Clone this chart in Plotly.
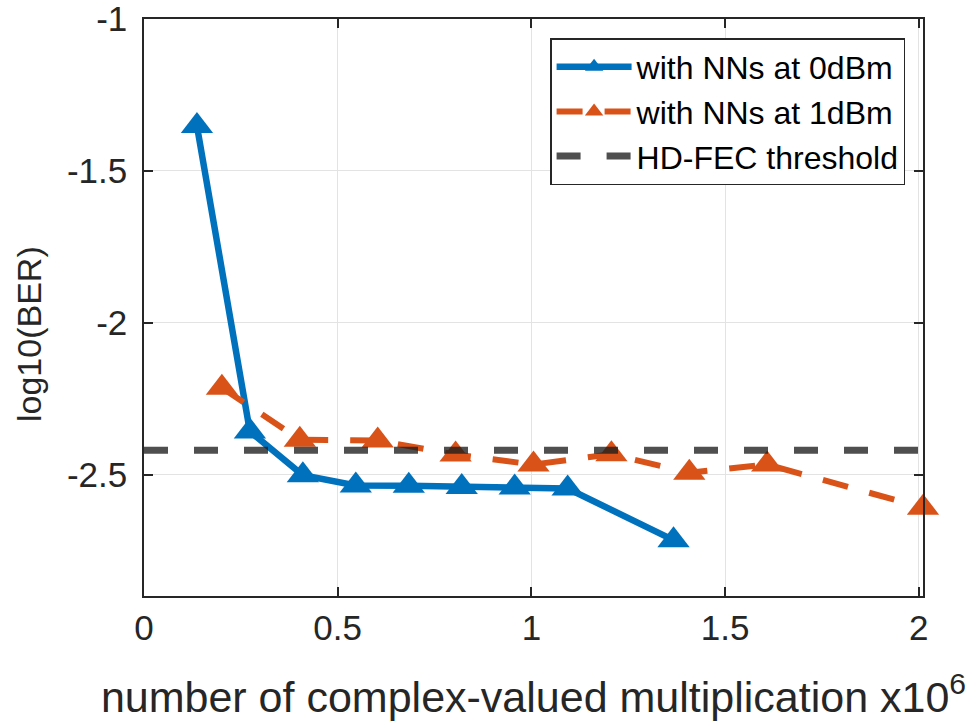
import plotly.graph_objects as go

# ---- data ----
nn0_x = [0.1367, 0.2734, 0.4101, 0.5468, 0.6835, 0.8202, 0.9569, 1.0936, 1.3670]
nn0_y = [-1.352, -2.358, -2.502, -2.536, -2.537, -2.541, -2.543, -2.546, -2.716]

nn1_x = [0.2011, 0.4022, 0.6033, 0.8044, 1.0055, 1.2066, 1.4077, 1.6088, 2.0110]
nn1_y = [-2.214, -2.385, -2.388, -2.434, -2.467, -2.433, -2.494, -2.467, -2.609]

fec_x = [0.0, 2.011]
fec_level = -2.42
fec_y = [fec_level, fec_level]

x_ticks = [0, 0.5, 1, 1.5, 2]
x_tick_text = ["0", "0.5", "1", "1.5", "2"]
y_ticks = [-2.5, -2, -1.5, -1]
y_tick_text = ["-2.5", "-2", "-1.5", "-1"]

x_range = [0, 2.011]
y_range = [-2.9, -0.9995]

FONT = "Liberation Sans, Arial, Helvetica, sans-serif"
AX = "#262626"
BLUE = "#0072BD"
ORANGE = "#D95319"

fig = go.Figure()
fig.add_trace(go.Scatter(
    x=nn0_x, y=nn0_y, mode="lines+markers", name="with NNs at 0dBm",
    line=dict(color=BLUE, width=6.5),
    marker=dict(symbol="triangle-up", size=28, color=BLUE),
    cliponaxis=False,
))
fig.add_trace(go.Scatter(
    x=nn1_x, y=nn1_y, mode="lines+markers", name="with NNs at 1dBm",
    line=dict(color=ORANGE, width=6, dash="26px,22px"),
    marker=dict(symbol="triangle-up", size=28, color=ORANGE),
    cliponaxis=False,
))
fig.add_trace(go.Scatter(
    x=fec_x, y=fec_y, mode="lines", name="HD-FEC threshold",
    line=dict(color="rgba(30,30,30,0.78)", width=7, dash="24px,26px"),
))

fig.update_layout(
    width=967, height=727,
    margin=dict(l=144, r=44, t=19, b=131, autoexpand=False),
    paper_bgcolor="white", plot_bgcolor="white",
    font=dict(family=FONT, size=35, color=AX),
    showlegend=True,
    legend=dict(
        x=0.977, y=0.967, xanchor="right", yanchor="top",
        bgcolor="white", bordercolor=AX, borderwidth=1.5,
        font=dict(family=FONT, size=32, color="#000000"),
        tracegroupgap=0, itemwidth=75,
    ),
    annotations=[dict(
        text="log10(BER)", textangle=-90, showarrow=False,
        xref="paper", yref="paper",
        x=(29 - 144) / 779, y=1 - (334 - 19) / 577,
        xanchor="center", yanchor="middle",
        font=dict(family=FONT, size=34, color=AX),
    )],
)
fig.update_xaxes(
    range=x_range, tickmode="array", tickvals=x_ticks, ticktext=x_tick_text,
    showgrid=True, gridcolor="#e3e3e3", gridwidth=1, zeroline=False,
    showline=True, linecolor=AX, linewidth=1.5, mirror="ticks",
    ticks="inside", ticklen=9, tickcolor=AX, tickwidth=1.5,
    tickfont=dict(family=FONT, size=35, color=AX),
    ticklabeloverflow="allow", automargin=False,
    title=dict(text="number of complex-valued multiplication x10<sup>6</sup>",
               font=dict(family=FONT, size=43, color=AX), standoff=36),
)
fig.update_yaxes(
    range=y_range, tickmode="array", tickvals=y_ticks, ticktext=y_tick_text,
    showgrid=True, gridcolor="#e3e3e3", gridwidth=1, zeroline=False,
    showline=True, linecolor=AX, linewidth=1.5, mirror="ticks",
    ticks="inside", ticklen=9, tickcolor=AX, tickwidth=1.5,
    tickfont=dict(family=FONT, size=35, color=AX),
    ticklabeloverflow="allow", automargin=False,
    ticklabelstandoff=8,
)

fig.write_html("out.html")
